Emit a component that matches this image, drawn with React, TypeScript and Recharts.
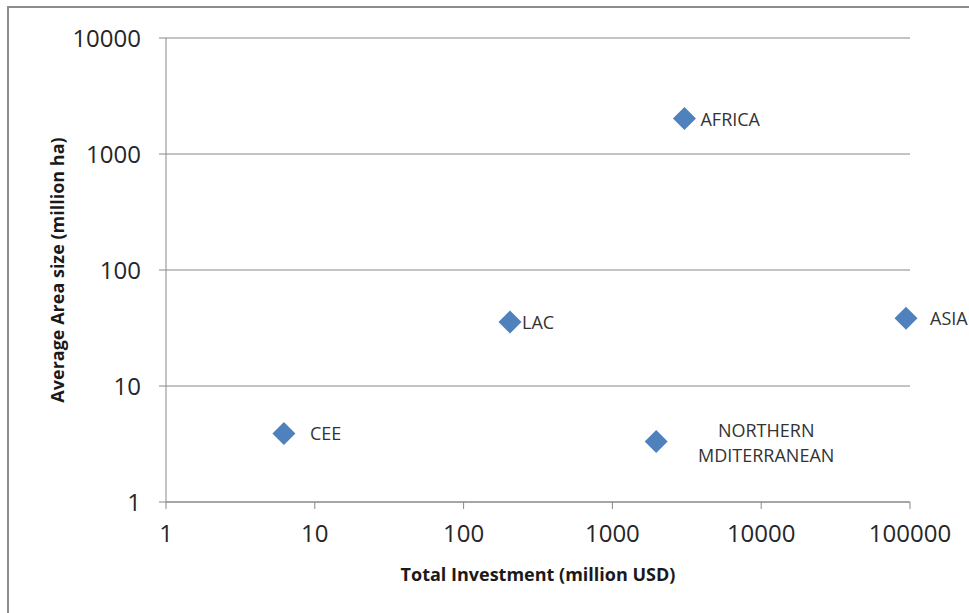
import React from 'react';
import { ScatterChart, Scatter, XAxis, YAxis, CartesianGrid, LabelList } from 'recharts';

// Regions and their values
const regions = ['CEE', 'LAC', 'NORTHERN MDITERRANEAN', 'AFRICA', 'ASIA'];
const investment = [6.2, 205, 1970, 3050, 94000]; // million USD
const areaSize = [3.9, 35.7, 3.33, 2020, 38.3]; // million ha
const xTicks = [1, 10, 100, 1000, 10000, 100000];
const yTicks = [1, 10, 100, 1000, 10000];

const data = regions.map((name, i) => ({ name, x: investment[i], y: areaSize[i] }));

const FONT = '"Open Sans", sans-serif';
const BLUE = '#4F81BD';
const AXIS = '#888888';

const Diamond = (props: any) => {
  const { cx, cy } = props;
  const r = 11.5;
  return (
    <polygon
      points={`${cx},${cy - r} ${cx + r},${cy} ${cx},${cy + r} ${cx - r},${cy}`}
      fill={BLUE}
    />
  );
};

// label offsets relative to the marker centre
const labelOffset: Record<string, [number, number]> = {
  CEE: [26, 0],
  LAC: [12, 0],
  AFRICA: [16, 0],
  ASIA: [24, 0],
};

const PointLabel = (props: any) => {
  const { x, y, width, height, value } = props;
  const cx = x + width / 2;
  const cy = y + height / 2;
  const style = { fontFamily: FONT, fontSize: 18, fill: '#333333' };
  if (value === 'NORTHERN MDITERRANEAN') {
    return (
      <text x={cx + 110} y={cy} textAnchor="middle" style={style}>
        <tspan x={cx + 110} y={cy - 11} dominantBaseline="central">NORTHERN</tspan>
        <tspan x={cx + 110} y={cy + 14} dominantBaseline="central">MDITERRANEAN</tspan>
      </text>
    );
  }
  const [dx, dy] = labelOffset[value] || [14, 0];
  return (
    <text x={cx + dx} y={cy + dy} dominantBaseline="central" textAnchor="start" style={style}>
      {value}
    </text>
  );
};

const App = () => {
  return (
    <div style={{ position: 'absolute', left: 0, top: 0, width: 969, height: 613, background: '#fff', overflow: 'hidden' }}>
      <div
        style={{
          position: 'absolute',
          left: 7,
          top: 6,
          width: 1000,
          height: 700,
          borderLeft: '2px solid #8c8c8c',
          borderTop: '2px solid #8c8c8c',
        }}
      />
      <div style={{ position: 'absolute', left: 0, top: 0 }}>
        <ScatterChart width={969} height={613} margin={{ top: 38, right: 59, bottom: 0, left: 0 }}>
          <CartesianGrid vertical={false} stroke={AXIS} strokeWidth={1} />
          <XAxis
            type="number"
            dataKey="x"
            scale="log"
            domain={[1, 100000]}
            ticks={xTicks}
            stroke={AXIS}
            tickSize={7}
            tickMargin={16}
            tick={{ fontFamily: FONT, fontSize: 24, fill: '#262626' }}
            height={111}
            interval={0}
          />
          <YAxis
            type="number"
            dataKey="y"
            scale="log"
            domain={[1, 10000]}
            ticks={yTicks}
            stroke={AXIS}
            tickSize={7}
            tickMargin={18}
            tick={{ fontFamily: FONT, fontSize: 24, fill: '#262626' }}
            width={166}
            interval={0}
          />
          <Scatter data={data} shape={<Diamond />} isAnimationActive={false}>
            <LabelList dataKey="name" content={<PointLabel />} />
          </Scatter>
        </ScatterChart>
      </div>
      <div
        style={{
          position: 'absolute',
          left: 538,
          top: 574,
          transform: 'translate(-50%, -50%)',
          fontFamily: FONT,
          fontWeight: 'bold',
          fontSize: 18,
          color: '#1a1a1a',
          whiteSpace: 'nowrap',
        }}
      >
        Total Investment (million USD)
      </div>
      <div
        style={{
          position: 'absolute',
          left: 57,
          top: 270,
          transform: 'translate(-50%, -50%) rotate(-90deg)',
          fontFamily: FONT,
          fontWeight: 'bold',
          fontSize: 18,
          color: '#1a1a1a',
          whiteSpace: 'nowrap',
        }}
      >
        Average Area size (million ha)
      </div>
    </div>
  );
};

export default App;
